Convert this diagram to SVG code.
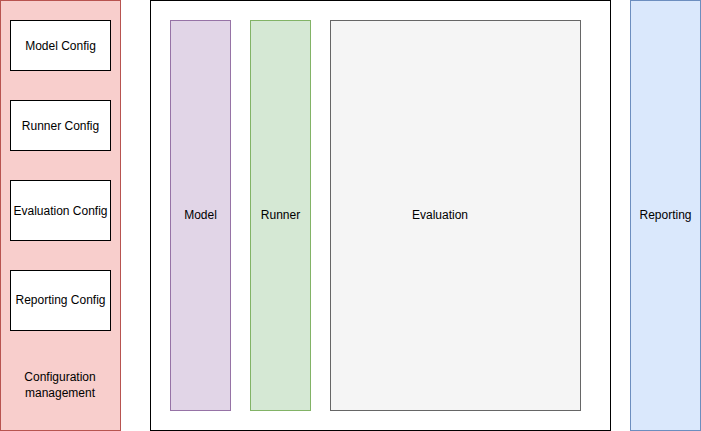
<svg xmlns="http://www.w3.org/2000/svg" width="701" height="431" viewBox="0 0 701 431">
<style>
text{font-family:"Liberation Sans",Arial,sans-serif;font-size:12px;fill:#000;text-anchor:middle;dominant-baseline:central}
.cfg{fill:#fff;stroke:#000;stroke-width:1}
</style>
<rect width="701" height="431" fill="#fff"/>
<g id="config-management">
<rect x="0.5" y="0.5" width="120" height="430" fill="#f8cecc" stroke="#b85450"/>
<text x="60" y="377">Configuration</text>
<text x="60" y="393">management</text>
</g>
<g id="model-config"><rect class="cfg" x="10.5" y="20.5" width="100" height="50"/><text x="60.5" y="45.5">Model Config</text></g>
<g id="runner-config"><rect class="cfg" x="10.5" y="100.5" width="100" height="50"/><text x="60.5" y="125.5">Runner Config</text></g>
<g id="evaluation-config"><rect class="cfg" x="10.5" y="180.5" width="100" height="60"/><text x="60.5" y="210.5">Evaluation Config</text></g>
<g id="reporting-config"><rect class="cfg" x="10.5" y="270.5" width="100" height="60"/><text x="60.5" y="300">Reporting Config</text></g>
<g id="container"><rect x="150.5" y="0.5" width="460" height="430" fill="#fff" stroke="#000"/></g>
<g id="model"><rect x="170.5" y="20.5" width="60" height="390" fill="#e1d5e7" stroke="#9673a6"/><text x="200.5" y="215">Model</text></g>
<g id="runner"><rect x="250.5" y="20.5" width="60" height="390" fill="#d5e8d4" stroke="#82b366"/><text x="280.5" y="215">Runner</text></g>
<g id="evaluation"><rect x="330.5" y="20.5" width="250" height="390" fill="#f5f5f5" stroke="#666666"/><text x="440" y="215">Evaluation</text></g>
<g id="reporting"><rect x="630.5" y="0.5" width="70" height="430" fill="#dae8fc" stroke="#6c8ebf"/><text x="665.5" y="215">Reporting</text></g>
<g id="connectors"></g>
</svg>
